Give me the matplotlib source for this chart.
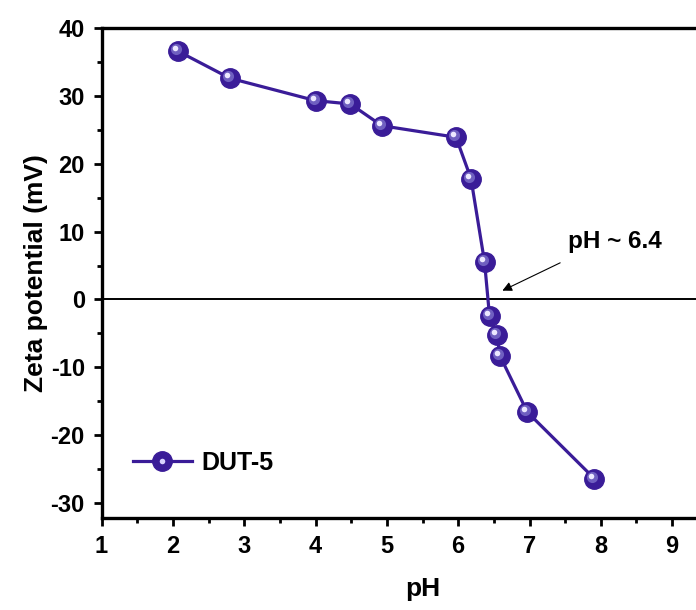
import matplotlib
matplotlib.use('Agg')
import matplotlib.pyplot as plt
from matplotlib.transforms import offset_copy
from matplotlib.legend_handler import HandlerTuple
from matplotlib.ticker import MultipleLocator, FixedLocator

# zeta potential titration of DUT-5
ph = [2.07, 2.80, 4.00, 4.49, 4.93, 5.97, 6.18, 6.37, 6.44, 6.54, 6.59, 6.97, 7.91]
zeta = [36.6, 32.6, 29.3, 28.8, 25.6, 23.9, 17.8, 5.5, -2.5, -5.2, -8.4, -16.6, -26.4]
x_ticks = [1, 2, 3, 4, 5, 6, 7, 8, 9]
series_label = 'DUT-5'
iep_label = 'pH ~ 6.4'

plt.rcParams['font.family'] = ['Liberation Sans', 'DejaVu Sans']
plt.rcParams['font.weight'] = 'bold'
plt.rcParams['axes.unicode_minus'] = False

color = '#3a1c98'

fig = plt.figure(figsize=(6.96, 6.10), dpi=100)
# axes runs past the right edge of the figure
ax = fig.add_axes([101.5 / 696, 92 / 610, 642 / 696, 490 / 610])

ax.axhline(0, color='black', lw=1.4, zorder=1)

line, = ax.plot(ph, zeta, '-o', color=color, lw=2.3, ms=14,
                mec=color, mfc=color, zorder=3)

# glossy highlight on the spheres
hl_mid = offset_copy(ax.transData, fig=fig, x=-2, y=2, units='dots')
hl_top = offset_copy(ax.transData, fig=fig, x=-3, y=3, units='dots')
ax.plot(ph, zeta, 'o', ms=8, color='#6f5fc0', mec='none', transform=hl_mid, zorder=4)
ax.plot(ph, zeta, 'o', ms=4, color='#ece8ff', mec='none', transform=hl_top, zorder=5)
hl, = ax.plot([], [], 'o', ms=4, color='#d8d2ff', mec='none')

ax.annotate('', xy=(6.62, 1.3), xytext=(7.43, 5.4),
            arrowprops=dict(arrowstyle='-|>', color='black', lw=0.8,
                            mutation_scale=14, shrinkA=0, shrinkB=0))
ax.text(8.2, 8.6, iep_label, fontsize=17.5, fontweight='bold',
        ha='center', va='center')

ax.set_xlim(1, 10)
ax.set_ylim(-32.2, 40.0)
ax.xaxis.set_major_locator(FixedLocator(x_ticks))
ax.xaxis.set_minor_locator(MultipleLocator(0.5))
ax.yaxis.set_major_locator(MultipleLocator(10))
ax.yaxis.set_minor_locator(MultipleLocator(5))

for side in ['top', 'bottom', 'left', 'right']:
    ax.spines[side].set_linewidth(2.4)

ax.tick_params(which='major', direction='out', length=6, width=2,
               labelsize=17, pad=6)
ax.tick_params(which='minor', direction='out', length=3.5, width=2)
for lab in ax.get_xticklabels() + ax.get_yticklabels():
    lab.set_fontweight('bold')

ax.set_xlabel('pH', fontsize=19, fontweight='bold', labelpad=14)
ax.set_ylabel('Zeta potential (mV)', fontsize=19, fontweight='bold', labelpad=2)

ax.legend([(line, hl)], [series_label], handler_map={tuple: HandlerTuple(ndivide=1)},
          loc='lower left', bbox_to_anchor=(0.014, 0.042), frameon=False,
          handlelength=2.35, handletextpad=0.4,
          prop={'weight': 'bold', 'size': 18})

fig.savefig('out.png', dpi=100)
